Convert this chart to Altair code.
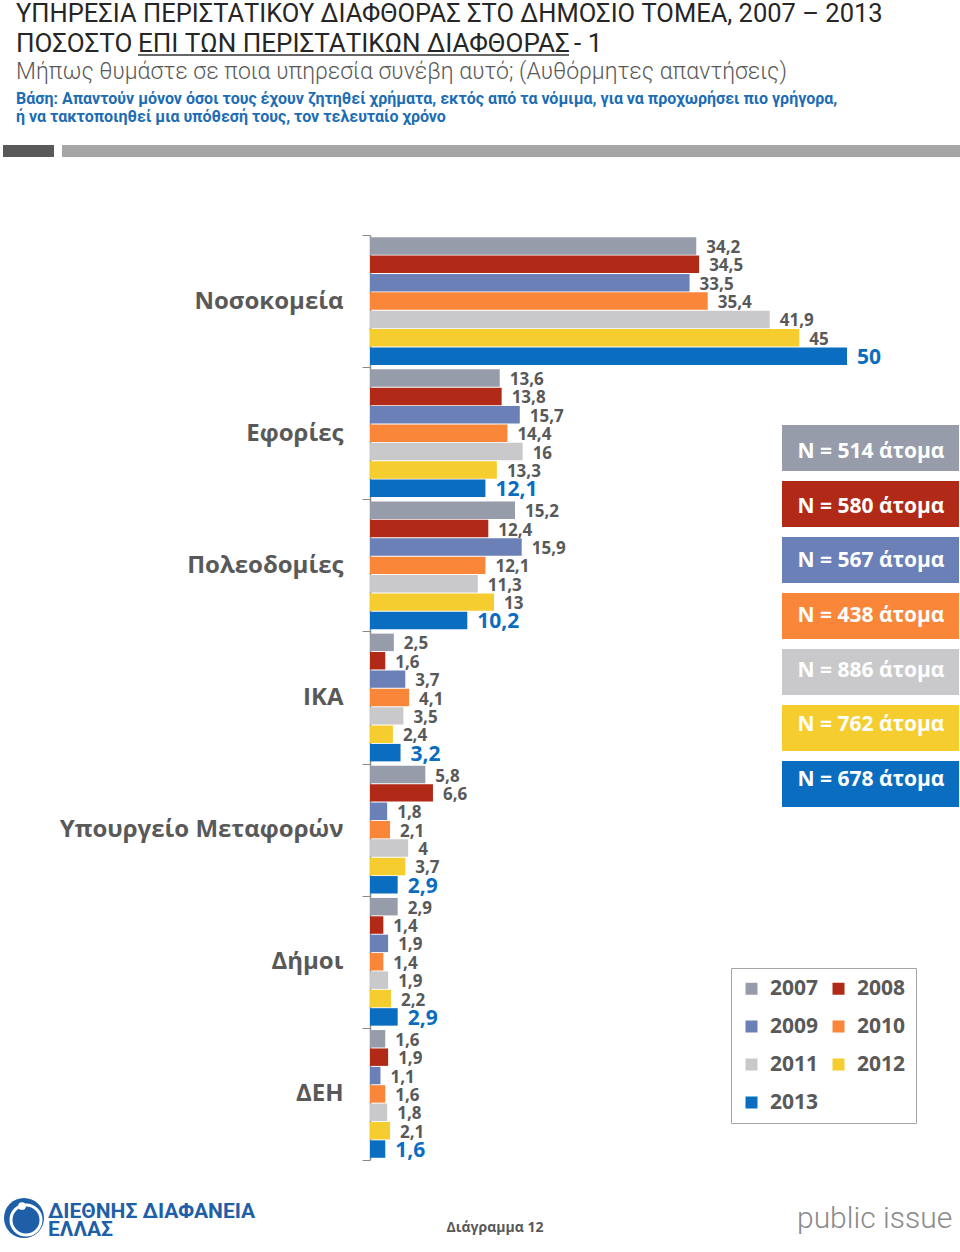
import altair as alt
import pandas as pd

categories = ["Νοσοκομεία", "Εφορίες", "Πολεοδομίες", "ΙΚΑ",
              "Υπουργείο Μεταφορών", "Δήμοι", "ΔΕΗ"]
years = ["2007", "2008", "2009", "2010", "2011", "2012", "2013"]
legend_order = ["2007", "2009", "2011", "2013", "2008", "2010", "2012"]
v2007 = [34.2, 13.6, 15.2, 2.5, 5.8, 2.9, 1.6]
v2008 = [34.5, 13.8, 12.4, 1.6, 6.6, 1.4, 1.9]
v2009 = [33.5, 15.7, 15.9, 3.7, 1.8, 1.9, 1.1]
v2010 = [35.4, 14.4, 12.1, 4.1, 2.1, 1.4, 1.6]
v2011 = [41.9, 16.0, 11.3, 3.5, 4.0, 1.9, 1.8]
v2012 = [45.0, 13.3, 13.0, 2.4, 3.7, 2.2, 2.1]
v2013 = [50.0, 12.1, 10.2, 3.2, 2.9, 2.9, 1.6]
n_people = [514, 580, 567, 438, 886, 762, 678]
colors = ["#979CAA", "#B12A18", "#6B80B6", "#FA863A", "#C9C9CC", "#F5CD2F", "#0B6DC0"]

series = [v2007, v2008, v2009, v2010, v2011, v2012, v2013]
rows = []
for yr, vals in zip(years, series):
    for cat, v in zip(categories, vals):
        rows.append({"category": cat, "year": yr, "value": v,
                     "label": f"{v:g}".replace(".", ",")})
df = pd.DataFrame(rows)
ndf = pd.DataFrame({"year": years,
                    "ntext": [f"N = {n} άτομα" for n in n_people]})

color_scale = alt.Scale(domain=years, range=colors)
yscale = alt.Scale(domain=categories, range=[235, 1160], paddingInner=0, paddingOuter=0)
yoff_scale = alt.Scale(domain=years, paddingInner=0.05, paddingOuter=0.12)
xscale = alt.Scale(domain=[0, 50], range=[370, 847], nice=False, zero=True)

base = alt.Chart(df)
bars = base.mark_bar().encode(
    x=alt.X("value:Q", scale=xscale, axis=None),
    y=alt.Y("category:N", sort=categories, scale=yscale,
            axis=alt.Axis(title=None, offset=-370, tickBand="extent", tickSize=8,
                          domainColor="#8c8c8c", tickColor="#8c8c8c", domainWidth=1.5,
                          labelFont="Open Sans", labelFontSize=24, labelFontWeight="bold",
                          labelColor="#595959", labelPadding=19, labelLimit=400)),
    yOffset=alt.YOffset("year:N", sort=years, scale=yoff_scale),
    color=alt.Color("year:N", scale=color_scale,
                    legend=alt.Legend(title=None, orient="none", legendX=731, legendY=968,
                                      columns=2, values=legend_order,
                                      symbolType="square", symbolSize=144,
                                      symbolStrokeWidth=0, labelFont="Open Sans",
                                      labelFontSize=21, labelFontWeight="bold",
                                      labelColor="#595959", labelOffset=8,
                                      strokeColor="#a6a6a6", fillColor="white",
                                      padding=10, rowPadding=16, columnPadding=9)),
)
labels = base.mark_text(align="left", baseline="middle", dx=10, dy=2,
                        font="Open Sans", fontWeight="bold").encode(
    x=alt.X("value:Q", scale=xscale, axis=None),
    y=alt.Y("category:N", sort=categories, scale=yscale),
    yOffset=alt.YOffset("year:N", sort=years, scale=yoff_scale),
    text="label:N",
    color=alt.condition(alt.datum.year == "2013", alt.value("#0B6DC0"), alt.value("#595959")),
    size=alt.condition(alt.datum.year == "2013", alt.value(21), alt.value(17)),
)
main = alt.layer(bars, labels)

nscale = alt.Scale(domain=years, range=[425, 807], paddingInner=0.18, paddingOuter=0)
nbox = alt.Chart(ndf).mark_rect().encode(
    y=alt.Y("year:N", sort=years, scale=nscale, axis=None),
    x=alt.value(782), x2=alt.value(959),
    color=alt.Color("year:N", scale=color_scale, legend=None),
)
ntext = alt.Chart(ndf).mark_text(font="Open Sans", fontWeight="bold", fontSize=21,
                                 color="white", baseline="middle").encode(
    y=alt.Y("year:N", sort=years, scale=nscale, axis=None),
    x=alt.value(871),
    text="ntext:N",
)


def txt(s, x, y, **kw):
    return alt.Chart(pd.DataFrame({"t": [s]})).mark_text(
        align=kw.pop("align", "left"), baseline="alphabetic", **kw).encode(
        x=alt.value(x), y=alt.value(y), text="t:N")


one = pd.DataFrame({"a": [0]})
cond = "Roboto"
annots = [
    txt("ΥΠΗΡΕΣΙΑ ΠΕΡΙΣΤΑΤΙΚΟΥ ΔΙΑΦΘΟΡΑΣ ΣΤΟ ΔΗΜΟΣΙΟ ΤΟΜΕΑ, 2007 – 2013", 16, 22,
        font=cond, fontSize=25.5, color="#262626"),
    txt("ΠΟΣΟΣΤΟ", 16, 52, font=cond, fontSize=26, color="#262626"),
    txt("ΕΠΙ ΤΩΝ ΠΕΡΙΣΤΑΤΙΚΩΝ ΔΙΑΦΘΟΡΑΣ", 138, 52, font=cond, fontSize=26, color="#262626"),
    txt("- 1", 574, 52, font=cond, fontSize=26, color="#262626"),
    alt.Chart(one).mark_rule(color="#333333", strokeWidth=1.5).encode(
        x=alt.value(138), x2=alt.value(569), y=alt.value(55)),
    txt("Μήπως θυμάστε σε ποια υπηρεσία συνέβη αυτό; (Αυθόρμητες απαντήσεις)", 16, 79,
        font=cond, fontSize=23, fontWeight=300, color="#595959"),
    txt("Βάση: Απαντούν μόνον όσοι τους έχουν ζητηθεί χρήματα, εκτός από τα νόμιμα, "
        "για να προχωρήσει πιο γρήγορα,", 16, 104,
        font=cond, fontSize=16, fontWeight="bold", color="#1C6DB5"),
    txt("ή να τακτοποιηθεί μια υπόθεσή τους, τον τελευταίο χρόνο", 16, 122,
        font=cond, fontSize=16, fontWeight="bold", color="#1C6DB5"),
    alt.Chart(one).mark_rect(color="#595959").encode(
        x=alt.value(3), x2=alt.value(54), y=alt.value(145), y2=alt.value(157)),
    alt.Chart(one).mark_rect(color="#a6a6a6").encode(
        x=alt.value(62), x2=alt.value(960), y=alt.value(145), y2=alt.value(157)),
    # footer
    alt.Chart(one).mark_point(shape="circle", size=1600, filled=True, color="#1F5FA8",
                              opacity=1).encode(x=alt.value(24), y=alt.value(1218)),
    alt.Chart(one).mark_point(shape="circle", size=900, filled=False, color="white",
                              strokeWidth=3, opacity=1).encode(x=alt.value(26), y=alt.value(1220)),
    alt.Chart(one).mark_point(shape="circle", size=60, filled=True, color="white",
                              opacity=1).encode(x=alt.value(22), y=alt.value(1206)),
    txt("ΔΙΕΘΝΗΣ ΔΙΑΦΑΝΕΙΑ", 48, 1218, font=cond, fontSize=21, fontWeight="bold",
        color="#1F5FA8"),
    txt("ΕΛΛΑΣ", 48, 1236, font=cond, fontSize=21, fontWeight="bold", color="#1F5FA8"),
    txt("Διάγραμμα 12", 495, 1232, align="center", font="Open Sans", fontSize=14,
        fontWeight="bold", color="#595959"),
    txt("public issue", 797, 1228, font=cond, fontSize=30, fontWeight=300, color="#8a8a8a"),
]

chart = alt.layer(main, nbox, ntext, *annots).resolve_scale(y="independent").properties(
    width=960, height=1252,
    autosize=alt.AutoSizeParams(type="none"),
    padding=0,
    background="white",
).configure_view(stroke=None)

chart.save("out.html", embed_options={"renderer": "svg", "actions": False})
